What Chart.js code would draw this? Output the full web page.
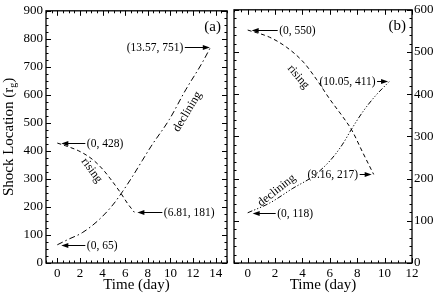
<!DOCTYPE html>
<html>
<head>
<meta charset="utf-8">
<script src="https://cdn.jsdelivr.net/npm/chart.js@4.4.1/dist/chart.umd.min.js"></script>
<style>
  body { margin: 0; background: #fff; }
  #wrap { position: relative; width: 436px; height: 295px; }
  canvas { position: absolute; top: 0; }
  #chartA { left: 0; }
  #chartB { left: 229px; }
</style>
</head>
<body>
<div id="wrap">
  <canvas id="chartA" width="229" height="295"></canvas>
  <canvas id="chartB" width="207" height="295"></canvas>
</div>
<script>
const SERIF = "'Liberation Serif', 'Times New Roman', serif";

// tick labels
const xTicksA = [0, 2, 4, 6, 8, 10, 12, 14];
const yTicksA = [0, 100, 200, 300, 400, 500, 600, 700, 800, 900];
const xTicksB = [0, 2, 4, 6, 8, 10, 12];
const yTicksB = [0, 100, 200, 300, 400, 500, 600];

// panel (a)
const risingAx = [0, 0.75, 1.9, 3.1, 4.0, 4.7, 5.6, 6.2, 6.81];
const risingAy = [428, 418, 400, 370, 335, 300, 250, 213, 181];
const decliningAx = [0, 1.0, 2.2, 3.7, 4.9, 5.75, 6.6, 7.5, 8.3, 9.9, 11.35, 12.8, 13.57];
const decliningAy = [65, 85, 108, 155, 207, 254, 306, 365, 417, 512, 618, 714, 772];

// panel (b)
const risingBx = [0, 1.6, 2.85, 4.07, 5.05, 6.0, 7.0, 7.6, 8.4, 9.2];
const risingBy = [552, 535, 511, 476, 434, 388, 344, 315, 262, 210];
const decliningBx = [0, 1.6, 3.3, 4.8, 6.0, 6.9, 7.6, 8.4, 9.3, 10.4];
const decliningBy = [119, 142, 177, 206, 242, 280, 318, 358, 395, 432];

// end-point annotations
const notesA = [
  { x: 0, y: 428, text: '(0, 428)', dir: 1, gap: 4, len: 28 },
  { x: 6.81, y: 181, text: '(6.81, 181)', dir: 1, gap: 3, len: 28 },
  { x: 13.57, y: 772, text: '(13.57, 751)', dir: -1, gap: 1, len: 26 },
  { x: 0, y: 65, text: '(0, 65)', dir: 1, gap: 4, len: 28 }
];
const notesB = [
  { x: 0, y: 552, text: '(0, 550)', dir: 1, gap: 4, len: 30 },
  { x: 10.4, y: 432, text: '(10.05, 411)', dir: -1, gap: 2, len: 13 },
  { x: 9.2, y: 210, text: '(9.16, 217)', dir: -1, gap: 2, len: 14 },
  { x: 0, y: 119, text: '(0, 118)', dir: 1, gap: 5, len: 28 }
];
const tagsA = [
  { x: 3.04, y: 330, text: 'rising', angle: 54 },
  { x: 11.5, y: 540, text: 'declining', angle: -59 }
];
const tagsB = [
  { x: 3.7, y: 441, text: 'rising', angle: 50 },
  { x: 2.12, y: 172, text: 'declining', angle: -38 }
];

function pts(xs, ys) {
  return xs.map((x, i) => ({ x: x, y: ys[i] }));
}

function curve(xs, ys, dash) {
  return {
    data: pts(xs, ys),
    showLine: true,
    borderColor: '#000',
    borderWidth: 1,
    borderDash: dash,
    pointRadius: 0,
    tension: 0.4,
    cubicInterpolationMode: 'monotone',
    fill: false
  };
}

// frame with inward ticks, arrows, labels
const framePlugin = {
  id: 'frame',
  afterDraw(chart, args, opts) {
    const { ctx, chartArea: a, scales: { x, y } } = chart;
    ctx.save();
    ctx.strokeStyle = '#000';
    ctx.fillStyle = '#000';
    ctx.lineWidth = 1.3;
    ctx.strokeRect(a.left, a.top, a.right - a.left, a.bottom - a.top);

    ctx.lineWidth = 1;
    ctx.beginPath();
    const isMajor = (v, m) => Math.abs(v / m - Math.round(v / m)) < 1e-6;
    for (let v = x.min; v <= x.max + 1e-9; v += opts.xMinor) {
      const px = Math.round(x.getPixelForValue(v)) + 0.5;
      const L = isMajor(v, opts.xMajor) ? 5 : 2.5;
      ctx.moveTo(px, a.bottom); ctx.lineTo(px, a.bottom - L);
      ctx.moveTo(px, a.top); ctx.lineTo(px, a.top + L);
    }
    for (let v = y.min; v <= y.max + 1e-9; v += opts.yMinor) {
      const py = Math.round(y.getPixelForValue(v)) + 0.5;
      const L = isMajor(v, opts.yMajor) ? 5 : 2.5;
      ctx.moveTo(a.left, py); ctx.lineTo(a.left + L, py);
      ctx.moveTo(a.right, py); ctx.lineTo(a.right - L, py);
    }
    ctx.stroke();

    // arrows + coordinate labels
    ctx.font = '11.5px ' + SERIF;
    ctx.textBaseline = 'middle';
    for (const n of opts.notes) {
      const px = x.getPixelForValue(n.x);
      const py = Math.round(y.getPixelForValue(n.y)) + 0.5;
      const head = px + n.dir * n.gap;
      const tail = px + n.dir * n.len;
      ctx.beginPath();
      ctx.moveTo(tail, py);
      ctx.lineTo(head + n.dir * 5, py);
      ctx.stroke();
      ctx.beginPath();
      ctx.moveTo(head, py);
      ctx.lineTo(head + n.dir * 7, py - 2.5);
      ctx.lineTo(head + n.dir * 7, py + 2.5);
      ctx.closePath();
      ctx.fill();
      ctx.textAlign = n.dir > 0 ? 'left' : 'right';
      ctx.fillText(n.text, tail + n.dir * 1.5, py + 0.5);
    }

    // rotated curve names
    ctx.font = '12px ' + SERIF;
    ctx.textAlign = 'center';
    for (const t of opts.tags) {
      ctx.save();
      ctx.translate(x.getPixelForValue(t.x), y.getPixelForValue(t.y));
      ctx.rotate(t.angle * Math.PI / 180);
      ctx.fillText(t.text, 0, 0);
      ctx.restore();
    }

    // panel letter
    ctx.font = '15px ' + SERIF;
    ctx.textAlign = 'right';
    ctx.fillText(opts.letter, a.right - 6, a.top + 16);

    // y-axis title with subscript
    if (opts.yTitle) {
      ctx.save();
      ctx.translate(9, (a.top + a.bottom) / 2);
      ctx.rotate(-Math.PI / 2);
      const main = 'Shock Location (r', sub = 'g', end = ')';
      ctx.font = '15px ' + SERIF;
      const w1 = ctx.measureText(main).width, w3 = ctx.measureText(end).width;
      ctx.font = '10px ' + SERIF;
      const w2 = ctx.measureText(sub).width;
      let sx = -(w1 + w2 + w3) / 2;
      ctx.textAlign = 'left';
      ctx.font = '15px ' + SERIF;
      ctx.fillText(main, sx, 0);
      ctx.font = '10px ' + SERIF;
      ctx.fillText(sub, sx + w1, 4);
      ctx.font = '15px ' + SERIF;
      ctx.fillText(end, sx + w1 + w2, 0);
      ctx.restore();
    }
    ctx.restore();
  }
};

function makeOptions(cfg) {
  return {
    responsive: false,
    animation: false,
    devicePixelRatio: 1,
    layout: { padding: cfg.padding },
    plugins: {
      legend: { display: false },
      tooltip: { enabled: false },
      frame: cfg.frame
    },
    scales: {
      x: {
        type: 'linear',
        min: cfg.xMin,
        max: cfg.xMax,
        grid: { display: false, drawTicks: false },
        border: { display: false },
        afterBuildTicks: s => { s.ticks = cfg.xTicks.map(v => ({ value: v })); },
        afterFit: s => { s.height = 32; },
        ticks: {
          autoSkip: false,
          maxRotation: 0,
          padding: 3,
          color: '#000',
          font: { family: SERIF, size: 13 }
        },
        title: {
          display: true,
          text: 'Time (day)',
          color: '#000',
          padding: { top: 0, bottom: 1 },
          font: { family: SERIF, size: 15 }
        }
      },
      y: {
        type: 'linear',
        position: cfg.yPos,
        min: 0,
        max: cfg.yMax,
        grid: { display: false, drawTicks: false },
        border: { display: false },
        afterBuildTicks: s => { s.ticks = cfg.yTicks.map(v => ({ value: v })); },
        afterFit: s => { s.width = cfg.yWidth; },
        ticks: {
          padding: cfg.yPad,
          color: '#000',
          font: { family: SERIF, size: 13 }
        }
      }
    }
  };
}

new Chart(document.getElementById('chartA'), {
  type: 'scatter',
  data: {
    datasets: [
      curve(risingAx, risingAy, [4, 3]),
      curve(decliningAx, decliningAy, [6, 3, 1.5, 3])
    ]
  },
  options: makeOptions({
    padding: { top: 5, right: 2, left: 0, bottom: 0 },
    xMin: -1, xMax: 15, xTicks: xTicksA,
    yMax: 900, yTicks: yTicksA, yPos: 'left', yWidth: 46, yPad: 3,
    frame: {
      xMinor: 0.5, xMajor: 2, yMinor: 25, yMajor: 100,
      notes: notesA, tags: tagsA, letter: '(a)', yTitle: true
    }
  }),
  plugins: [framePlugin]
});

new Chart(document.getElementById('chartB'), {
  type: 'scatter',
  data: {
    datasets: [
      curve(risingBx, risingBy, [4, 3]),
      curve(decliningBx, decliningBy, [5, 2, 1.2, 2, 1.2, 2, 1.2, 2])
    ]
  },
  options: makeOptions({
    padding: { top: 5, right: 0, left: 5, bottom: 0 },
    xMin: -1, xMax: 12, xTicks: xTicksB,
    yMax: 600, yTicks: yTicksB, yPos: 'right', yWidth: 24, yPad: 2,
    frame: {
      xMinor: 0.5, xMajor: 2, yMinor: 20, yMajor: 100,
      notes: notesB, tags: tagsB, letter: '(b)', yTitle: false
    }
  }),
  plugins: [framePlugin]
});
</script>
</body>
</html>
